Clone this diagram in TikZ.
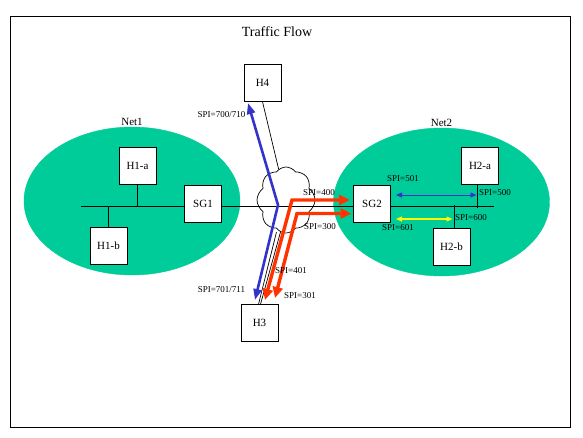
\documentclass[tikz,border=0pt]{standalone}
\usepackage{fontspec}
\setmainfont{Liberation Serif}
\usetikzlibrary{shapes.geometric, shapes.symbols, arrows.meta, positioning}
\definecolor{netcolor}{RGB}{0, 204, 153}
\definecolor{spiblue}{RGB}{51, 51, 204}
\definecolor{spired}{RGB}{255, 51, 0}
\definecolor{spiyellow}{RGB}{255, 255, 0}

\begin{document}
\begin{tikzpicture}[
    x=1pt, y=-1pt,
    net/.style={ellipse, draw=netcolor, fill=netcolor, minimum width=216, minimum height=148, inner sep=0pt},
    host/.style={draw, fill=white, minimum width=37, minimum height=37, inner sep=0pt, font=\fontsize{11}{12}\selectfont},
    wire/.style={line width=0.7pt},
    bluelink/.style={{Triangle[length=11pt,width=8pt]}-{Triangle[length=11pt,width=8pt]}, line width=2.6pt, spiblue},
    redlink/.style={{Triangle[length=11pt,width=10pt]}-{Triangle[length=11pt,width=10pt]}, line width=3.4pt, spired},
    sablue/.style={{Triangle[length=6pt,width=5pt]}-{Triangle[length=6pt,width=5pt]}, line width=0.8pt, spiblue},
    sayellow/.style={{Triangle[length=6pt,width=5pt]}-{Triangle[length=6pt,width=5pt]}, line width=1.1pt, spiyellow},
    spi/.style={font=\fontsize{9}{10}\selectfont, inner sep=0pt}
]
    \useasboundingbox (0,0) rectangle (583,437);
    \draw[line width=0.9pt] (10,16) rectangle (570,427);
    \node[font=\fontsize{14}{16}\selectfont] (title) at (277,32) {Traffic Flow};

    % Networks
    \node[net, label={[font=\fontsize{11}{12}\selectfont, inner sep=1pt]above:Net1}] (net1) at (132,201) {};
    \node[net, label={[font=\fontsize{11}{12}\selectfont, inner sep=1pt]above:Net2}] (net2) at (441.5,202) {};

    % Hosts and gateways
    \node[host] (h4) at (262.5,83) {H4};
    \node[host] (h3) at (259.5,323) {H3};
    \node[host] (sg1) at (203,204) {SG1};
    \node[host] (sg2) at (372,204) {SG2};
    \node[host] (h1a) at (137.5,165.5) {H1-a};
    \node[host] (h1b) at (108.5,246) {H1-b};
    \node[host] (h2a) at (480,165.5) {H2-a};
    \node[host] (h2b) at (451.5,246.5) {H2-b};
    \node[cloud, draw, wire, cloud puffs=8, cloud puff arc=110, aspect=0.9, minimum width=58, minimum height=66, inner sep=0pt] (cloud) at (286,200) {};

    % Wires
    \coordinate (bus1) at (81,206);
    \coordinate (bus2) at (494,206);
    \draw[wire] (bus1) -- (sg1.west |- bus1);
    \draw[wire] (sg1.east |- bus1) -- (sg2.west |- bus1);
    \draw[wire] (sg2.east |- bus2) -- (bus2);
    \draw[wire] (h1a) -- (h1a |- bus1);
    \draw[wire] (h1b) -- (h1b |- bus1);
    \draw[wire] ([xshift=-2.5]h2a.south) -- ++(0,24);
    \draw[wire] ([xshift=2.5]h2b.north) -- ++(0,-23);
    \draw[wire] (h4.south) -- (cloud);
    \coordinate (cl3a) at (276.5,232);
    \coordinate (cl3b) at (280.5,232);
    \draw[wire] (cl3a) -- ([xshift=-1]h3.north);
    \draw[wire] (cl3b) -- ([xshift=1]h3.north);

    % Security associations
    \coordinate (bend) at (278,205);
    \draw[bluelink] (248,103) coordinate (b4) -- (bend) -- (255,300) coordinate (b3);
    \coordinate (r400c) at (292,200);
    \coordinate (r300c) at (297,213.5);
    \draw[redlink] (265,300) coordinate (r401) -- (r400c) -- (350,200) coordinate (r400);
    \draw[redlink] (275,298) coordinate (r301) -- (r300c) -- (351.5,213.5) coordinate (r300);
    \draw[sablue] (396,195) coordinate (a501) -- (476.5,195) coordinate (a500);
    \draw[sayellow] (396,219) coordinate (a601) -- (452.5,219) coordinate (a600);

    % Labels
    \node[spi] (l710) at (221.5,115) {SPI=700/710};
    \node[spi] (l711) at (221.5,290) {SPI=701/711};
    \node[spi] (l400) at (319,193) {SPI=400};
    \node[spi] (l300) at (320,227) {SPI=300};
    \node[spi] (l401) at (291,271) {SPI=401};
    \node[spi] (l301) at (300,296) {SPI=301};
    \node[spi] (l501) at (403,179) {SPI=501};
    \node[spi] (l500) at (495,193) {SPI=500};
    \node[spi] (l600) at (471,218) {SPI=600};
    \node[spi] (l601) at (398,228) {SPI=601};
\end{tikzpicture}
\end{document}
